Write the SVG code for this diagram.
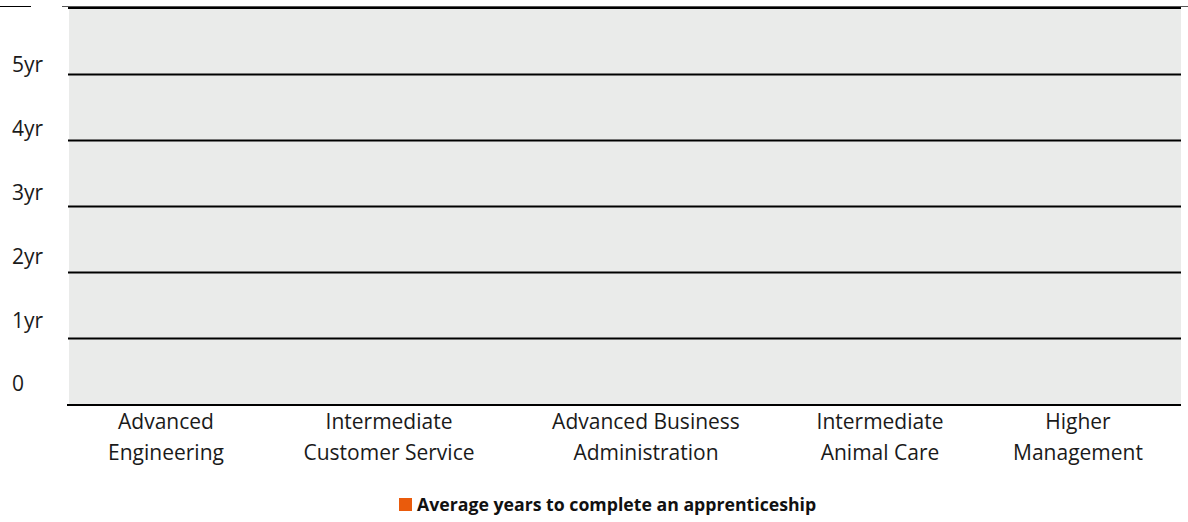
<svg xmlns="http://www.w3.org/2000/svg" width="1188" height="522" viewBox="0 0 1188 522">
<style>
.lbl{font-family:"Open Sans","Noto Sans","Liberation Sans",sans-serif;font-size:21px;fill:#1a1a1a}
.cat{text-anchor:middle}
.grid{stroke:#000;stroke-width:2.2}
.leg{font-family:"Open Sans","Noto Sans","Liberation Sans",sans-serif;font-size:17.7px;font-weight:bold;fill:#111}
</style>
<rect width="1188" height="522" fill="#fff"/>
<g id="plot">
<rect x="69" y="8" width="1112" height="396" fill="#eaebea"/>
<line x1="0" y1="6.5" x2="31" y2="6.5" stroke="#000" stroke-width="1"/>
<line x1="62" y1="6.5" x2="1188" y2="6.5" stroke="#555" stroke-width="1"/>
<g id="gridlines">
<line class="grid" x1="68" y1="8" x2="1181" y2="8"/>
<line class="grid" x1="68" y1="74.5" x2="1181" y2="74.5"/>
<line class="grid" x1="68" y1="140.5" x2="1181" y2="140.5"/>
<line class="grid" x1="68" y1="206.5" x2="1181" y2="206.5"/>
<line class="grid" x1="68" y1="272.5" x2="1181" y2="272.5"/>
<line class="grid" x1="68" y1="338.5" x2="1181" y2="338.5"/>
<line class="grid" x1="67" y1="405" x2="1181" y2="405"/>
</g>
</g>
<g id="y-axis">
<text class="lbl" x="12" y="72">5yr</text>
<text class="lbl" x="12" y="136">4yr</text>
<text class="lbl" x="12" y="200">3yr</text>
<text class="lbl" x="12" y="264">2yr</text>
<text class="lbl" x="12" y="328">1yr</text>
<text class="lbl" x="12" y="391">0</text>
</g>
<g id="x-axis">
<text class="lbl cat" x="166" y="429">Advanced</text>
<text class="lbl cat" x="166" y="460">Engineering</text>
<text class="lbl cat" x="389" y="429">Intermediate</text>
<text class="lbl cat" x="389" y="460">Customer Service</text>
<text class="lbl cat" x="646" y="429">Advanced Business</text>
<text class="lbl cat" x="646" y="460">Administration</text>
<text class="lbl cat" x="880" y="429">Intermediate</text>
<text class="lbl cat" x="880" y="460">Animal Care</text>
<text class="lbl cat" x="1078" y="429">Higher</text>
<text class="lbl cat" x="1078" y="460">Management</text>
</g>
<g id="legend">
<rect x="399" y="498" width="13" height="13" fill="#ea5b0c"/>
<text class="leg" x="417" y="511">Average years to complete an apprenticeship</text>
</g>
</svg>
